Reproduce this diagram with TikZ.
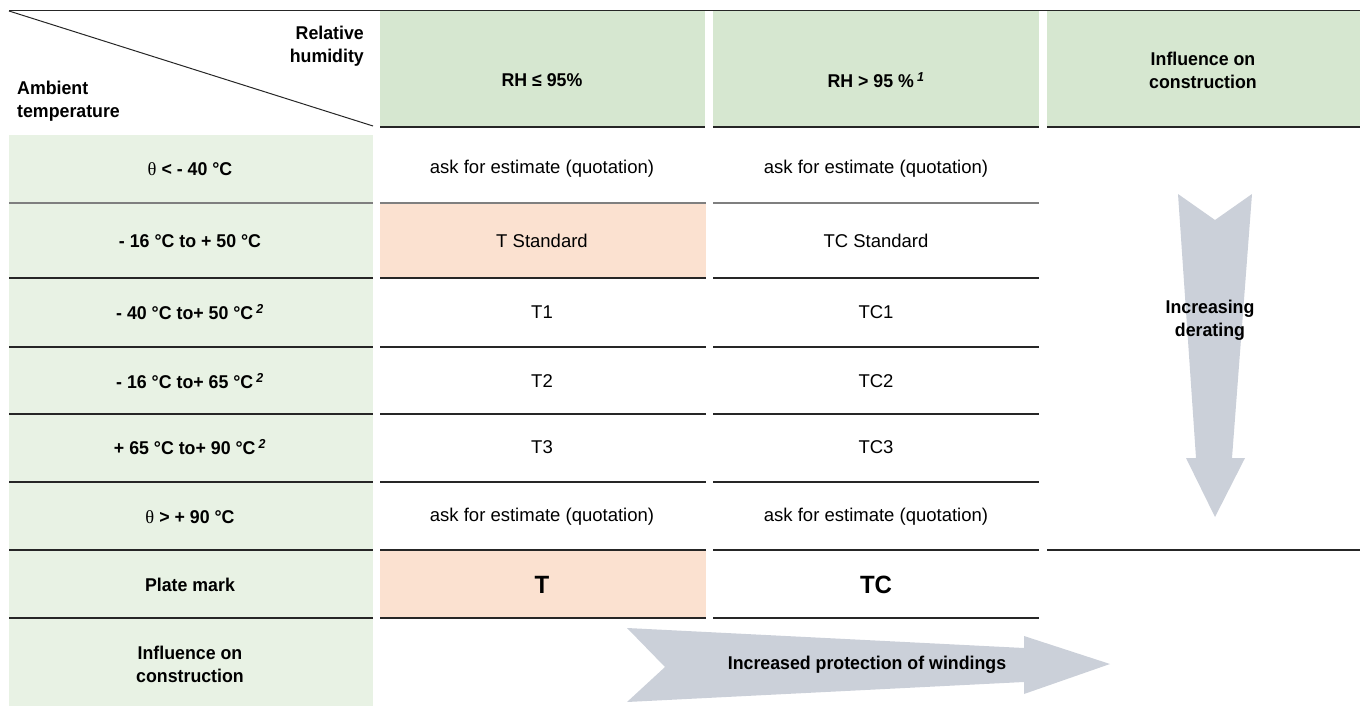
\documentclass[tikz,border=0pt]{standalone}
\usepackage{fontspec}
\setmainfont{Liberation Sans}[BoldFeatures={FakeStretch=0.96},BoldItalicFeatures={FakeStretch=0.96}]
\newfontfamily\thetafont{Liberation Serif}
\definecolor{hdrgreen}{HTML}{D6E7D0}
\definecolor{lblgreen}{HTML}{E8F2E4}
\definecolor{peach}{HTML}{FBE1D0}
\definecolor{arrowgray}{HTML}{CBD0D9}
\definecolor{rulecol}{HTML}{262626}
\definecolor{softrule}{HTML}{7F7F7F}
\tikzset{
  txt/.style={font={\fontsize{18.5}{23}\selectfont}, align=center, inner sep=0pt},
  bold/.style={font={\fontsize{18.5}{23}\selectfont\bfseries}, align=center, inner sep=0pt},
  platemark/.style={font={\fontsize{25}{30}\selectfont\bfseries}, inner sep=0pt},
  rule/.style={line width=1.6pt, draw=rulecol},
}
\newcommand{\thet}{{\thetafont\mdseries θ}}
\newcommand{\fn}[1]{\,\textsuperscript{\itshape #1}}
\begin{document}
\begin{tikzpicture}[x=1pt,y=-1pt]
  \useasboundingbox (0,0) rectangle (1360,706);
  % cell fills
  \fill[hdrgreen] (380,11) rectangle (705,127);
  \fill[hdrgreen] (713,11) rectangle (1039,127);
  \fill[hdrgreen] (1047,11) rectangle (1360,127);
  \fill[lblgreen] (9,135) rectangle (373,706);
  \fill[peach] (380,203) rectangle (706,278);
  \fill[peach] (380,550) rectangle (706,618);
  % rules
  \draw[rule] (9,10.5) -- (1360,10.5);
  \draw[draw=rulecol, line width=1pt] (9,11) -- (373,126);
  \foreach \a/\b in {380/705,713/1039,1047/1360}
    \draw[rule] (\a,127) -- (\b,127);
  \foreach \a/\b in {9/373,380/706,713/1039}
    \draw[line width=1.6pt, draw=softrule] (\a,203) -- (\b,203);
  \foreach \y in {278,347,414,482,550,618} {
    \draw[rule] (9,\y) -- (373,\y);
    \draw[rule] (380,\y) -- (706,\y);
    \draw[rule] (713,\y) -- (1039,\y);
  }
  \draw[rule] (1047,550) -- (1360,550);
  % block arrows
  \fill[arrowgray] (1178,194) -- (1215,220) -- (1252,194) -- (1232,458) -- (1245,458)
    -- (1215,517) -- (1186,458) -- (1196,458) -- cycle;
  \fill[arrowgray] (627,628) -- (1024,648) -- (1024,636) -- (1110,664) -- (1024,694)
    -- (1024,682) -- (627,702) -- (665,667) -- cycle;
  % header
  \node[bold, anchor=east, align=right] (relhum) at (364,46) {Relative\\humidity};
  \node[bold, anchor=west, align=left] (ambtemp) at (17,101) {Ambient\\temperature};
  \node[bold] (rhlow) at (542,80) {RH ≤ 95\%};
  \node[bold] (rhhigh) at (876,80) {RH > 95 \%\fn{1}};
  \node[bold] (influ) at (1203,70) {Influence on\\construction};
  % left column
  \node[bold] (row1) at (190,169) {\thet\ < - 40 °C};
  \node[bold] (row2) at (190,241) {- 16 °C to + 50 °C};
  \node[bold] (row3) at (190,312) {- 40 °C to+ 50 °C\fn{2}};
  \node[bold] (row4) at (190,381) {- 16 °C to+ 65 °C\fn{2}};
  \node[bold] (row5) at (190,447) {+ 65 °C to+ 90 °C\fn{2}};
  \node[bold] (row6) at (190,517) {\thet\ > + 90 °C};
  \node[bold] (row7) at (190,585) {Plate mark};
  \node[bold] (row8) at (190,664) {Influence on\\construction};
  % classes
  \node[txt] (ta) at (542,169) {ask for estimate (quotation)};
  \node[txt] (tb) at (542,241) {T Standard};
  \node[txt] (tc) at (542,312) {T1};
  \node[txt] (td) at (542,381) {T2};
  \node[txt] (te) at (542,447) {T3};
  \node[txt] (tf) at (542,517) {ask for estimate (quotation)};
  \node[platemark] (tmark) at (542,585) {T};
  \node[txt] (tca) at (876,169) {ask for estimate (quotation)};
  \node[txt] (tcb) at (876,241) {TC Standard};
  \node[txt] (tcc) at (876,312) {TC1};
  \node[txt] (tcd) at (876,381) {TC2};
  \node[txt] (tce) at (876,447) {TC3};
  \node[txt] (tcf) at (876,517) {ask for estimate (quotation)};
  \node[platemark] (tcmark) at (876,585) {TC};
  % arrow labels
  \node[bold] (derate) at (1210,320) {Increasing\\derating};
  \node[bold] (protect) at (867,665) {Increased protection of windings};
\end{tikzpicture}
\end{document}
